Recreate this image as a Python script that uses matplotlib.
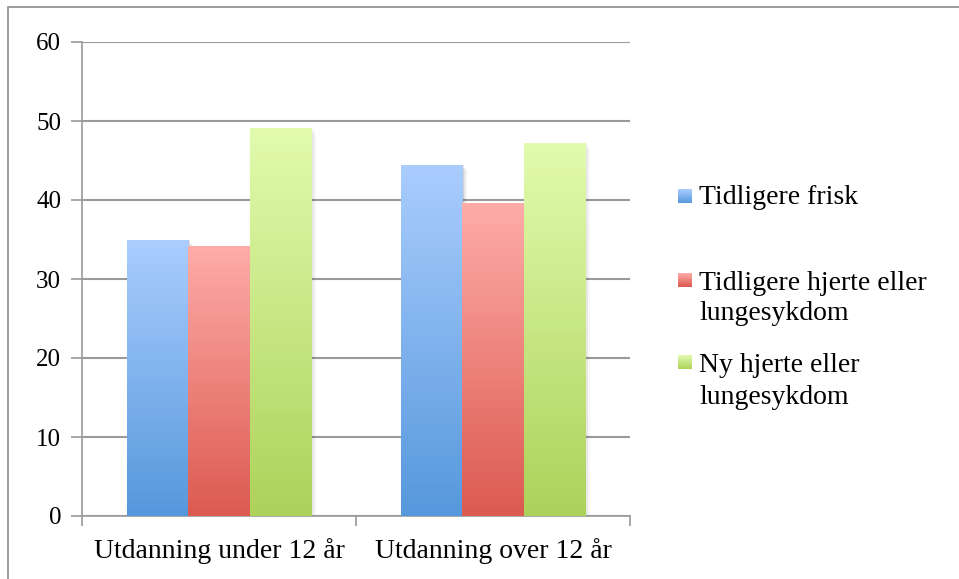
import numpy as np
import matplotlib
matplotlib.use("Agg")
import matplotlib.pyplot as plt
from matplotlib.colors import LinearSegmentedColormap
from matplotlib.patches import Rectangle

categories = ["Utdanning under 12 år", "Utdanning over 12 år"]
series_names = ["Tidligere frisk", "Tidligere hjerte eller\nlungesykdom", "Ny hjerte eller\nlungesykdom"]
tidligere_frisk = [34.9, 44.4]
tidligere_hjerte = [34.1, 39.5]
ny_hjerte = [49.1, 47.2]
y_ticks = [0, 10, 20, 30, 40, 50, 60]

series = [tidligere_frisk, tidligere_hjerte, ny_hjerte]
tops = ["#AACDFE", "#FEACA8", "#E2FBAE"]
bottoms = ["#5698DC", "#DC5A50", "#ADD25A"]
mids = ["#7FB2EE", "#EE837C", "#C8E684"]

plt.rcParams['font.family'] = ['Liberation Serif', 'DejaVu Serif']
fig = plt.figure(figsize=(9.59, 5.79), dpi=100)
W, H = 959, 579
ax = fig.add_axes([82 / W, (H - 516) / H, (630 - 82) / W, (516 - 42) / H])

x = np.arange(len(categories))
bw = 0.223
grid_c = "#9A9A9A"
grad = np.linspace(0, 1, 256).reshape(-1, 1)
for i, vals in enumerate(series):
    bars = ax.bar(x + (i - 1) * bw, vals, width=bw, color=mids[i], zorder=3)
    cmap = LinearSegmentedColormap.from_list(f"g{i}", [bottoms[i], tops[i]])
    for b in bars:
        bx, by = b.get_x(), b.get_y()
        bwid, bh = b.get_width(), b.get_height()
        # soft shadow
        for k, a in enumerate([0.10, 0.06, 0.03]):
            ax.add_patch(Rectangle((bx + bwid, by), 0.006 * (k + 1), bh - 0.3 * k,
                                   color="#000000", alpha=a, lw=0, zorder=2))
        ax.imshow(grad, extent=(bx, bx + bwid, by, by + bh), origin="lower",
                  cmap=cmap, aspect="auto", zorder=4)

ax.set_xlim(-0.5, 1.5)
ax.set_ylim(0, 60)
ax.set_yticks(y_ticks)
ax.set_yticklabels([str(t) for t in y_ticks], fontsize=18)
ax.yaxis.grid(True, color=grid_c, lw=1.5, zorder=1)
ax.set_axisbelow(True)

ax.set_xticks(x)
ax.set_xticklabels(categories, fontsize=20)
ax.set_xticks([-0.5, 0.5, 1.5], minor=True)
ax.tick_params(axis="x", which="major", length=0, pad=16)
ax.tick_params(axis="x", which="minor", length=7, color=grid_c, width=1.2)
ax.tick_params(axis="y", length=8, color=grid_c, width=1.2, pad=7)

for s in ["top", "right"]:
    ax.spines[s].set_visible(False)
for s in ["left", "bottom"]:
    ax.spines[s].set_color(grid_c)
    ax.spines[s].set_linewidth(1.2)

# legend (manual placement, gradient swatches)
entries = [(196, [(198, "Tidligere frisk")]),
           (280, [(283, "Tidligere hjerte eller"), (314, "lungesykdom")]),
           (362, [(366, "Ny hjerte eller"), (397, "lungesykdom")])]
for i, (sqy, lines) in enumerate(entries):
    sq = 14
    sax = fig.add_axes([678 / W, (H - sqy - sq / 2) / H, sq / W, sq / H])
    cmap = LinearSegmentedColormap.from_list(f"l{i}", [bottoms[i], tops[i]])
    sax.imshow(grad, origin="lower", cmap=cmap, aspect="auto")
    sax.axis("off")
    for yc, lab in lines:
        fig.text(699 / W, (H - yc) / H, lab, fontsize=20, va="center", ha="left")

# outer border
fig.patches.append(Rectangle((8 / W, -0.1), 1.2, (H - 7) / H + 0.1,
                             transform=fig.transFigure, fill=False,
                             edgecolor="#8C8C8C", lw=1.2))

fig.savefig("out.png", dpi=100)
